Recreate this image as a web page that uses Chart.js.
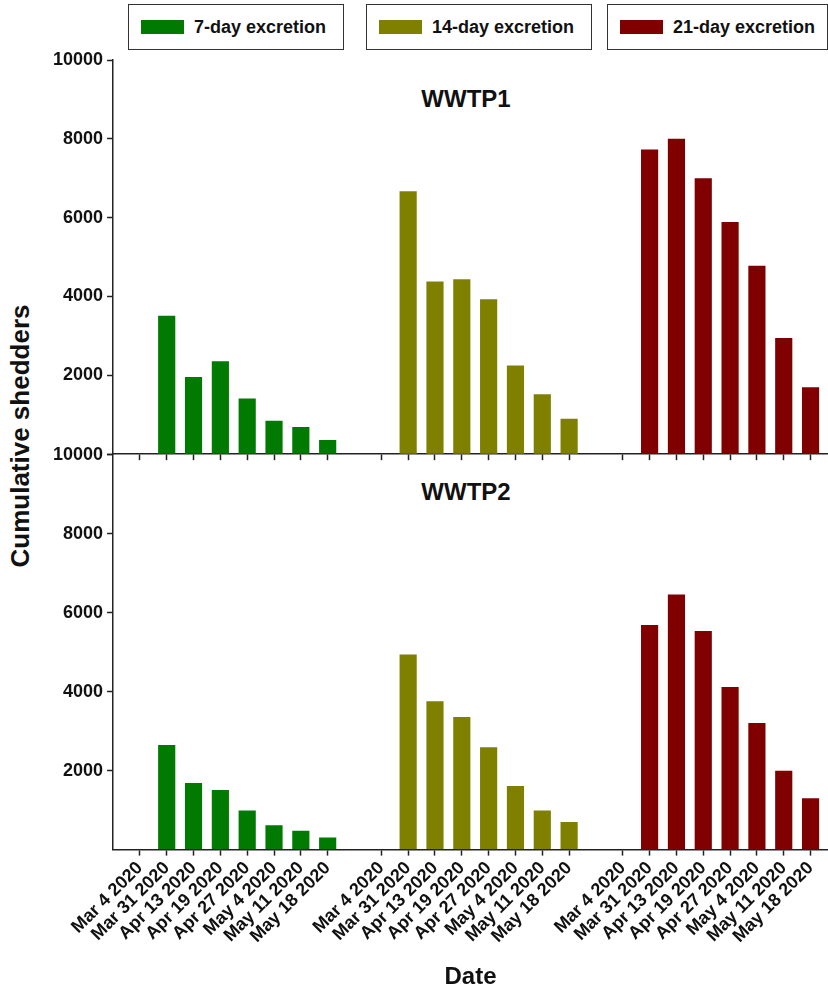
<!DOCTYPE html>
<html>
<head>
<meta charset="utf-8">
<script src="https://cdn.jsdelivr.net/npm/chart.js@4.4.1/dist/chart.umd.min.js"></script>
<style>
    body { margin: 0; background: #fff; }
    #wrap { position: relative; width: 828px; height: 995px; overflow: hidden; font-family: "Liberation Sans", Arial, sans-serif; }
    canvas { position: absolute; left: 0; }
    .legendBox { position: absolute; top: 4px; height: 44px; border: 1px solid #333; display: flex; align-items: center; font-weight: bold; font-size: 18px; color: #111; }
    .legendBox span.sw { display: inline-block; width: 43px; height: 14px; margin: 0 10px 0 12px; }
    .panelTitle { position: absolute; width: 200px; text-align: center; font-weight: bold; font-size: 24px; color: #111; }
    #yTitle { position: absolute; left: 20px; top: 436px; transform: translate(-50%, -50%) rotate(-90deg); white-space: nowrap; font-weight: bold; font-size: 26px; color: #111; }
</style>
</head>
<body>
<div id="wrap">
    <div id="legend"></div>
    <div class="panelTitle" style="left:366px; top:85px;">WWTP1</div>
    <div class="panelTitle" style="left:366px; top:478px;">WWTP2</div>
    <div id="yTitle">Cumulative shedders</div>
    <canvas id="topChart" width="828" height="469" style="top:0px"></canvas>
    <canvas id="bottomChart" width="828" height="555" style="top:440px"></canvas>
</div>
<script>
var dates = ['Mar 4 2020', 'Mar 31 2020', 'Apr 13 2020', 'Apr 19 2020', 'Apr 27 2020', 'May 4 2020', 'May 11 2020', 'May 18 2020'];
var seriesNames = ['7-day excretion', '14-day excretion', '21-day excretion'];
var seriesColors = ['#007a00', '#808000', '#800000'];

// WWTP1
var wwtp1Day7 = [0, 3510, 1960, 2360, 1410, 850, 690, 360];
var wwtp1Day14 = [0, 6670, 4380, 4440, 3930, 2250, 1520, 900];
var wwtp1Day21 = [0, 7730, 8000, 7000, 5890, 4780, 2950, 1700];

// WWTP2
var wwtp2Day7 = [0, 2650, 1690, 1510, 990, 620, 475, 305];
var wwtp2Day14 = [0, 4940, 3760, 3360, 2590, 1610, 990, 700];
var wwtp2Day21 = [0, 5690, 6460, 5540, 4120, 3210, 2000, 1300];

var yTicks = [0, 2000, 4000, 6000, 8000, 10000];

// each excretion group takes 8 slots plus one empty slot
function slot(group, i) {
    return group * 9 + i + 1;
}

var tickPositions = [];
for (var g = 0; g < 3; g++) {
    for (var i = 0; i < dates.length; i++) {
        tickPositions.push(slot(g, i));
    }
}

var FONT = "'Liberation Sans', Arial, sans-serif";
var AXIS = '#222';

// legend
var legend = document.getElementById('legend');
var boxLeft = [128, 366, 607];
var boxWidth = [214, 224, 219];
seriesNames.forEach(function (name, k) {
    var box = document.createElement('div');
    box.className = 'legendBox';
    box.style.left = boxLeft[k] + 'px';
    box.style.width = boxWidth[k] + 'px';
    box.innerHTML = '<span class="sw" style="background:' + seriesColors[k] + '"></span>' + name;
    legend.appendChild(box);
});

function BuildDatasets(panel) {
    return panel.map(function (values, k) {
        return {
            label: seriesNames[k],
            data: values.map(function (v, i) { return { x: slot(k, i), y: v }; }),
            backgroundColor: seriesColors[k],
            borderWidth: 0,
            grouped: false,
            barPercentage: 0.64,
            categoryPercentage: 1.0
        };
    });
}

function MakeOptions(isBottom) {
    return {
        responsive: false,
        animation: false,
        layout: {
            padding: isBottom ? { top: 14, left: 49, right: 0, bottom: 3 } : { top: 60, left: 49, right: 0, bottom: 0 }
        },
        plugins: {
            legend: { display: false },
            tooltip: { enabled: false }
        },
        scales: {
            x: {
                type: 'linear',
                min: 0,
                max: 26.65,
                offset: false,
                afterBuildTicks: function (scale) {
                    scale.ticks = tickPositions.map(function (v) { return { value: v }; });
                },
                border: { color: AXIS, width: 1.5 },
                grid: { offset: false, drawOnChartArea: false, drawTicks: true, tickLength: 6, tickColor: AXIS, tickWidth: 1.5 },
                ticks: {
                    display: isBottom,
                    autoSkip: false,
                    minRotation: 45,
                    maxRotation: 45,
                    padding: 2,
                    color: '#111',
                    font: { family: FONT, size: 18, weight: 'bold' },
                    callback: function (value) {
                        return dates[(value - 1) % 9];
                    }
                },
                title: {
                    display: isBottom,
                    text: 'Date',
                    color: '#111',
                    font: { family: FONT, size: 24, weight: 'bold' },
                    padding: { top: 14, bottom: 0 }
                }
            },
            y: {
                min: 0,
                max: 10000,
                afterBuildTicks: function (scale) {
                    scale.ticks = yTicks.map(function (v) { return { value: v }; });
                },
                border: { color: AXIS, width: 1.5 },
                grid: {
                    drawOnChartArea: false,
                    drawTicks: true,
                    tickLength: 6,
                    tickWidth: 1.5,
                    tickColor: function (ctx) {
                        return (isBottom && ctx.tick && ctx.tick.value === 0) ? 'rgba(0,0,0,0)' : AXIS;
                    }
                },
                ticks: {
                    padding: 4,
                    color: '#111',
                    font: { family: FONT, size: 18, weight: 'bold' },
                    callback: function (value) {
                        return value === 0 ? '' : value;
                    }
                }
            }
        }
    };
}

new Chart(document.getElementById('topChart').getContext('2d'), {
    type: 'bar',
    data: { datasets: BuildDatasets([wwtp1Day7, wwtp1Day14, wwtp1Day21]) },
    options: MakeOptions(false)
});

new Chart(document.getElementById('bottomChart').getContext('2d'), {
    type: 'bar',
    data: { datasets: BuildDatasets([wwtp2Day7, wwtp2Day14, wwtp2Day21]) },
    options: MakeOptions(true)
});
</script>
</body>
</html>
